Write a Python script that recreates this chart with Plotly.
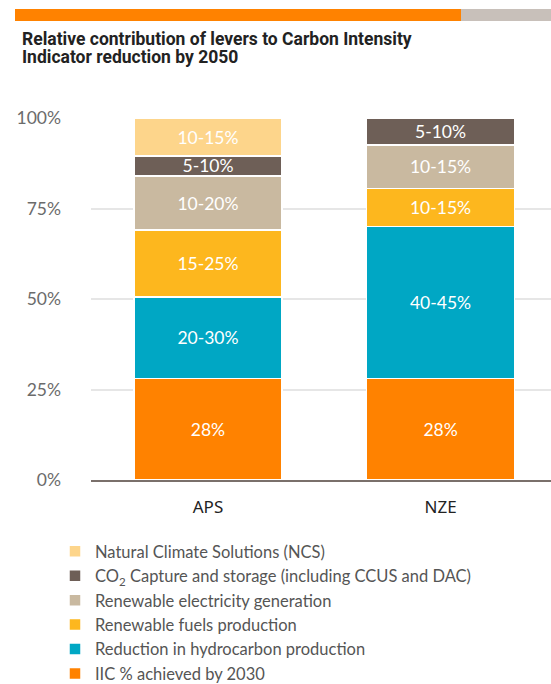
import plotly.graph_objects as go

categories = ["APS", "NZE"]

legend_names = [
    "IIC % achieved by 2030",
    "Reduction in hydrocarbon production",
    "Renewable fuels production",
    "Renewable electricity generation",
    "CO<sub>2</sub> Capture and storage (including CCUS and DAC)",
    "Natural Climate Solutions (NCS)",
]

iic_vals = [28, 28]
hydrocarbon_vals = [22.5, 42]
fuels_vals = [18.5, 10.5]
electricity_vals = [15, 12]
ccs_vals = [5.5, 7.5]
ncs_vals = [10.5, 0]

iic_labels = ["28%", "28%"]
hydrocarbon_labels = ["20-30%", "40-45%"]
fuels_labels = ["15-25%", "10-15%"]
electricity_labels = ["10-20%", "10-15%"]
ccs_labels = ["5-10%", "5-10%"]
ncs_labels = ["10-15%", " "]

colors = ["#FF8200", "#00A7C4", "#FDB71E", "#C9B9A0", "#6E5F57", "#FDD58B"]

values = [iic_vals, hydrocarbon_vals, fuels_vals, electricity_vals, ccs_vals, ncs_vals]
labels = [iic_labels, hydrocarbon_labels, fuels_labels, electricity_labels, ccs_labels, ncs_labels]

yticks = [0, 25, 50, 75, 100]
ytick_text = ["0%", "25%", "50%", "75%", "100%"]

title_line1 = "Relative contribution of levers to Carbon Intensity"
title_line2 = "Indicator reduction by 2050"

W, H = 551, 684
ml, mr, mt, mb = 91, 0, 118, 204

fig = go.Figure()
for i, lname in enumerate(legend_names):
    fig.add_trace(go.Bar(
        x=categories,
        y=values[i],
        name=lname,
        legendgroup=str(i),
        legendrank=10 - i,
        text=labels[i],
        textposition="inside",
        insidetextanchor="middle",
        textangle=0,
        constraintext="none",
        textfont=dict(family="Lato", size=17.5, color="white"),
        marker=dict(color=colors[i], line=dict(color="white", width=1.5)),
        width=0.637,
        hoverinfo="skip",
    ))

pw = W - ml - mr
ph = H - mt - mb
def px(x):
    return (x - ml) / pw
def py(y):
    return (H - mb - y) / ph

fig.update_layout(
    width=W, height=H,
    margin=dict(l=ml, r=mr, t=mt, b=mb, pad=0, autoexpand=False),
    barmode="stack",
    plot_bgcolor="white",
    paper_bgcolor="white",
    xaxis=dict(
        range=[-0.503, 1.475],
        showgrid=False,
        showline=True, linecolor="#7a706b", linewidth=1.5,
        ticks="",
        tickfont=dict(family="Noto Sans", size=17, color="#222222"),
        ticklabelstandoff=11,
        fixedrange=True,
    ),
    yaxis=dict(
        range=[0, 100],
        tickvals=yticks, ticktext=ytick_text,
        showgrid=True, gridcolor="#e6e6e6", gridwidth=1.5,
        zeroline=False,
        ticks="",
        tickfont=dict(family="Lato", size=17.5, color="#6b6b6b"),
        ticklabelstandoff=29,
        fixedrange=True,
    ),
    legend=dict(
        x=px(55), y=py(534), xanchor="left", yanchor="top",
        traceorder="grouped",
        tracegroupgap=0,
        font=dict(family="Lato", size=16.5, color="#555555"),
        bgcolor="rgba(0,0,0,0)",
    ),
    showlegend=True,
    shapes=[
        dict(type="rect", xref="paper", yref="paper",
             x0=px(15), x1=px(461), y0=py(9), y1=py(21),
             fillcolor="#FF8200", line=dict(width=0), layer="above"),
        dict(type="rect", xref="paper", yref="paper",
             x0=px(461), x1=px(551), y0=py(9), y1=py(21),
             fillcolor="#C8C0BA", line=dict(width=0), layer="above"),
    ],
    annotations=[
        dict(
            text="<b>" + title_line1 + "</b>",
            xref="paper", yref="paper", x=px(20), y=py(39),
            xanchor="left", yanchor="middle", align="left", showarrow=False,
            font=dict(family="Roboto", size=17.5, color="#222222"),
        ),
        dict(
            text="<b>" + title_line2 + "</b>",
            xref="paper", yref="paper", x=px(20), y=py(57.5),
            xanchor="left", yanchor="middle", align="left", showarrow=False,
            font=dict(family="Roboto", size=17.5, color="#222222"),
        ),
    ],
)

fig.write_html(
    "out.html",
    config={"displayModeBar": False},
    post_script="document.body.style.margin='0px';document.body.style.overflow='hidden';",
)
